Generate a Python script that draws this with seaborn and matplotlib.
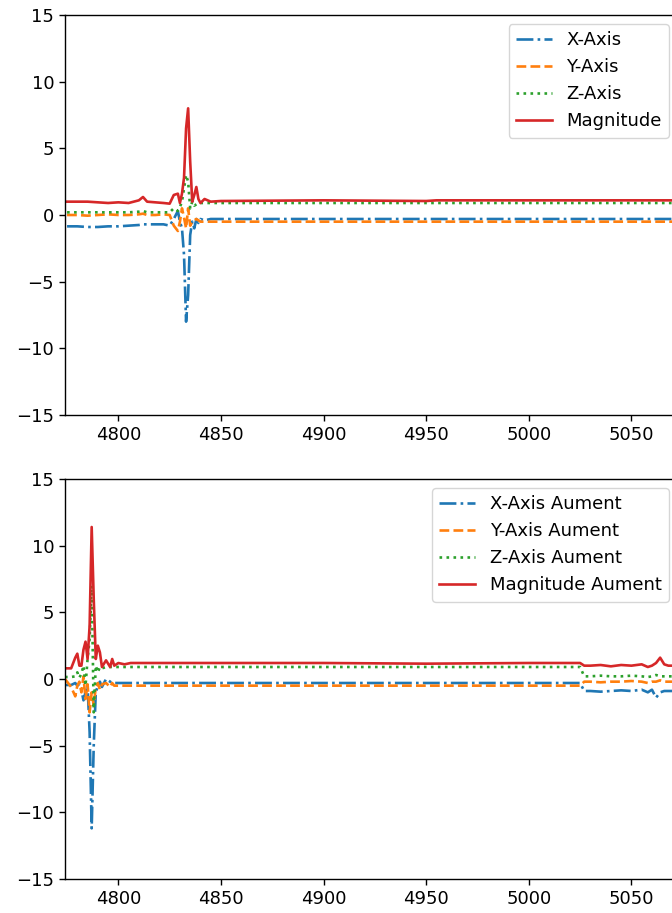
import numpy as np
import pandas as pd
import matplotlib
matplotlib.use("Agg")
import matplotlib.pyplot as plt
import seaborn as sns

# top panel: sensor readings around the first event
x_top = [4775, 4780, 4785, 4790, 4795, 4800, 4805, 4810, 4812, 4814, 4818, 4822,
         4825, 4827, 4829, 4830, 4831, 4832, 4833, 4834, 4835, 4836, 4837, 4838,
         4839, 4840, 4842, 4845, 4850, 4900, 4950, 4955, 5000, 5073]
mag_top = [1.0, 1.0, 1.0, 0.95, 0.9, 0.95, 0.9, 1.1, 1.35, 1.0, 0.95, 0.9,
           0.85, 1.5, 1.6, 0.9, 1.6, 2.8, 6.5, 8.0, 4.0, 1.0, 1.5, 2.1,
           1.2, 0.9, 1.2, 1.0, 1.05, 1.1, 1.05, 1.1, 1.1, 1.1]
x_axis_top = [-0.85, -0.85, -0.9, -0.9, -0.85, -0.85, -0.8, -0.75, -0.7, -0.7, -0.7, -0.7,
              -0.8, -0.3, 0.3, -0.5, -1.0, -3.0, -8.0, -6.0, -1.5, -0.5, -1.0, -0.3,
              -0.6, -0.3, -0.4, -0.3, -0.3, -0.3, -0.3, -0.3, -0.3, -0.3]
y_axis_top = [0.0, 0.0, -0.05, 0.0, 0.05, 0.0, 0.0, 0.05, 0.1, 0.0, 0.0, 0.05,
              0.0, -0.8, -1.2, -0.5, 0.5, -0.2, -1.0, 0.5, -0.8, -0.5, -0.4, -0.3,
              -0.4, -0.5, -0.5, -0.5, -0.5, -0.5, -0.5, -0.5, -0.5, -0.5]
z_axis_top = [0.2, 0.2, 0.2, 0.2, 0.2, 0.2, 0.2, 0.25, 0.3, 0.2, 0.2, 0.2,
              0.2, 0.5, 0.3, 0.6, 1.0, 2.0, 3.0, 2.5, 0.5, 1.0, 0.7, 0.8,
              0.9, 0.9, 0.9, 0.9, 0.9, 0.9, 0.9, 0.9, 0.9, 0.9]

# bottom panel: augmented readings
x_bot = [4774, 4777, 4779, 4780, 4781, 4782, 4783, 4784, 4785, 4786, 4787, 4788,
         4789, 4790, 4791, 4792, 4794, 4796, 4797, 4798, 4800, 4803, 4806, 4810,
         4850, 4900, 4950, 5000, 5025, 5027, 5030, 5035, 5040, 5045, 5050, 5055,
         5058, 5060, 5062, 5064, 5066, 5068, 5073]
mag_bot = [0.8, 0.8, 1.6, 1.9, 1.0, 1.0, 2.2, 2.8, 1.5, 4.0, 11.4, 6.0,
           1.5, 2.5, 2.0, 0.9, 1.4, 0.9, 1.5, 1.0, 1.2, 1.1, 1.2, 1.2,
           1.2, 1.2, 1.15, 1.2, 1.2, 1.0, 1.0, 1.05, 0.95, 1.05, 1.0, 1.1,
           0.9, 1.0, 1.2, 1.6, 1.1, 1.0, 1.0]
x_axis_bot = [-0.45, -0.45, -0.3, -0.5, -0.4, -0.8, -1.6, -1.0, -0.5, -4.0, -11.2, -5.0,
              -1.0, -0.5, -0.2, -0.6, 0.0, -0.2, -0.3, -0.3, -0.3, -0.3, -0.3, -0.3,
              -0.3, -0.3, -0.3, -0.3, -0.3, -0.9, -0.9, -0.95, -0.9, -0.85, -0.9, -0.8,
              -1.0, -0.8, -1.4, -1.0, -0.9, -0.9, -0.9]
y_axis_bot = [0.0, -0.6, -1.3, -0.5, -0.2, -1.0, 0.2, -1.5, -0.4, -2.5, -1.0, -2.0,
              -0.6, -0.3, -0.8, -0.4, -0.3, -0.6, -0.3, -0.5, -0.5, -0.5, -0.5, -0.5,
              -0.5, -0.5, -0.5, -0.5, -0.5, -0.2, -0.2, -0.25, -0.2, -0.2, -0.15, -0.2,
              -0.3, -0.2, -0.2, -0.1, -0.2, -0.2, -0.2]
z_axis_bot = [0.15, 0.15, 0.2, 0.5, 0.1, 0.4, 1.0, -0.5, 1.5, 3.0, 7.0, -2.5,
              1.0, 0.5, 0.9, 0.8, 0.9, 0.9, 0.9, 0.9, 0.9, 0.9, 0.9, 0.9,
              0.9, 0.9, 0.9, 0.9, 0.9, 0.2, 0.2, 0.25, 0.2, 0.2, 0.25, 0.2,
              0.15, 0.2, 0.3, 0.2, 0.2, 0.2, 0.2]

labels_top = ["X-Axis", "Y-Axis", "Z-Axis", "Magnitude"]
labels_bot = ["X-Axis Aument", "Y-Axis Aument", "Z-Axis Aument", "Magnitude Aument"]
styles = ["-.", "--", ":", "-"]
colors = ["#1f77b4", "#ff7f0e", "#2ca02c", "#d62728"]

plt.rcParams["font.size"] = 13
plt.rcParams["axes.linewidth"] = 1.0
plt.rcParams["xtick.major.size"] = 4.3
plt.rcParams["ytick.major.size"] = 4.3
plt.rcParams["xtick.major.width"] = 1.0
plt.rcParams["ytick.major.width"] = 1.0

fig = plt.figure(figsize=(6.72, 9.13), dpi=100)
left = 65 / 672
width = (678 - 65) / 672
ax1 = fig.add_axes([left, (913 - 415) / 913, width, 400 / 913])
ax2 = fig.add_axes([left, (913 - 879) / 913, width, 400 / 913])

panels = [
    (ax1, x_top, [x_axis_top, y_axis_top, z_axis_top, mag_top], labels_top),
    (ax2, x_bot, [x_axis_bot, y_axis_bot, z_axis_bot, mag_bot], labels_bot),
]

for ax, xs, series, labels in panels:
    for vals, lab, ls, c in zip(series, labels, styles, colors):
        sns.lineplot(x=xs, y=vals, ax=ax, color=c, linestyle=ls,
                     linewidth=1.9, label=lab)
    ax.set_ylim(-15, 15)
    ax.set_xlim(4774, 5072.7)
    ax.set_yticks([-15, -10, -5, 0, 5, 10, 15])
    ax.set_xticks([4800, 4850, 4900, 4950, 5000, 5050])
    ax.legend(loc="upper right")

fig.savefig("out.png", dpi=100)
